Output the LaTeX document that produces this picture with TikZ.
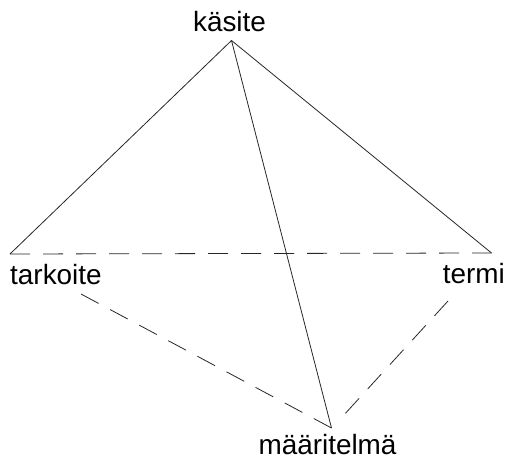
\documentclass[tikz,border=0pt]{standalone}
\usepackage{fontspec}
\setmainfont{Liberation Sans}
\begin{document}
\begin{tikzpicture}[x=1bp,y=-1bp,
  label/.style={inner sep=0pt,anchor=base,font=\fontsize{28}{28}\selectfont},
  edge/.style={line width=0.8bp,black!85},
  hidden/.style={edge,dash pattern=on 20bp off 13bp}]
\useasboundingbox (0,0) rectangle (510,460);
% vertices of the tetrahedron
\coordinate (top) at (231.5,40.5);
\coordinate (left) at (10,254);
\coordinate (right) at (491.5,253);
\coordinate (bottom) at (331.5,428);
% ends of the dashed edges near the labels
\coordinate (tstart) at (81,294);
\coordinate (rstart) at (448,301);
\coordinate (rend) at (343,416);
% labels
\node[label] (kasite) at (229.5,32) {käsite};
\node[label,anchor=base west] (tarkoite) at (10,284) {tarkoite};
\node[label,anchor=base east] (termi) at (505,283) {termi};
\node[label,text depth=0pt] (maaritelma) at (327.5,454) {määritelmä};
% solid edges
\draw[edge] (left) -- (top) -- (right);
\draw[edge] (top) -- (bottom);
% dashed edges
\draw[hidden] (left) -- (right);
\draw[hidden] (tstart) -- (bottom);
\draw[hidden] (rstart) -- (rend);
\end{tikzpicture}
\end{document}
